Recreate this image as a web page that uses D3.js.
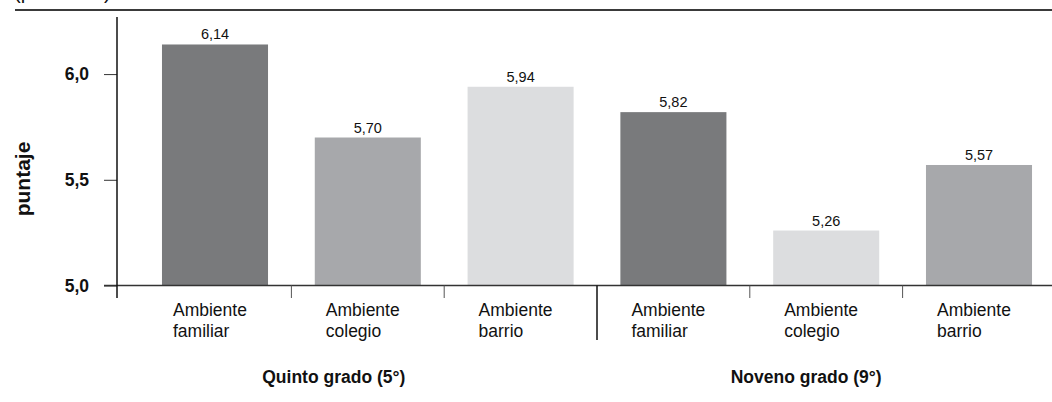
<!DOCTYPE html>
<html>
<head>
<meta charset="utf-8">
<script src="https://cdn.jsdelivr.net/npm/d3@7"></script>
<style>
  html, body { margin: 0; padding: 0; background: #fff; }
  svg { display: block; }
  text { font-family: "Liberation Sans", Arial, sans-serif; fill: #111; }
</style>
</head>
<body>
<div id="chart"></div>
<script>
// data
const grades = ["Quinto grado (5°)", "Noveno grado (9°)"];
const environments = ["Ambiente familiar", "Ambiente colegio", "Ambiente barrio"];
const quintoValues = [6.14, 5.70, 5.94];
const novenoValues = [5.82, 5.26, 5.57];
const barShades = ["dark", "mid", "light", "dark", "light", "mid"];
const yTicks = [5.0, 5.5, 6.0];
const yLabel = "puntaje";
const topNote = "(promedio)";

document.addEventListener('DOMContentLoaded', function() {
    const W = 1052, H = 402;
    const shadeColor = {dark: "#797a7c", mid: "#a7a8ab", light: "#dcdddf"};

    const rows = [];
    [quintoValues, novenoValues].forEach((vals, g) => {
        vals.forEach((v, i) => rows.push({grade: grades[g], env: environments[i], key: g + "-" + i, value: v}));
    });
    rows.forEach((d, i) => d.shade = barShades[i]);

    const svg = d3.select("#chart").append("svg")
        .attr("width", W)
        .attr("height", H);

    const x = d3.scaleBand()
        .domain(rows.map(d => d.key))
        .range([138.6, 1055.4])
        .paddingInner(0.306)
        .paddingOuter(0.153);

    const y = d3.scaleLinear()
        .domain([5.0, 6.27])
        .range([285.5, 17]);

    // clipped note and top rule
    svg.append("text")
        .attr("x", 14).attr("y", -1)
        .attr("font-size", 20)
        .text(topNote);
    svg.append("line")
        .attr("x1", 15).attr("x2", W)
        .attr("y1", 10).attr("y2", 10)
        .attr("stroke", "#3a3a3a").attr("stroke-width", 2.2);

    // bars
    svg.append("g")
        .selectAll("rect")
        .data(rows)
        .join("rect")
        .attr("x", d => x(d.key))
        .attr("y", d => y(d.value))
        .attr("width", x.bandwidth())
        .attr("height", d => y(5.0) - y(d.value))
        .attr("fill", d => shadeColor[d.shade]);

    // value labels
    svg.append("g")
        .selectAll("text")
        .data(rows)
        .join("text")
        .attr("x", d => x(d.key) + x.bandwidth() / 2)
        .attr("y", d => y(d.value) - 5)
        .attr("text-anchor", "middle")
        .attr("font-size", 14.5)
        .text(d => d3.format(".2f")(d.value).replace(".", ","));

    // baseline
    svg.append("line")
        .attr("x1", 104).attr("x2", W)
        .attr("y1", y(5.0)).attr("y2", y(5.0))
        .attr("stroke", "#333").attr("stroke-width", 1.5);

    // y axis
    const yAxis = svg.append("g")
        .attr("transform", "translate(117,0)")
        .call(d3.axisLeft(y).tickValues(yTicks).tickSize(13).tickSizeOuter(0)
            .tickFormat(d => d3.format(".1f")(d).replace(".", ",")));
    yAxis.select(".domain").remove();
    yAxis.selectAll(".tick line").attr("stroke", "#333");
    yAxis.selectAll(".tick text")
        .attr("x", -28)
        .attr("font-size", 17.5)
        .attr("font-weight", "bold")
        .attr("font-family", null)
        .attr("fill", "#111");
    svg.append("line")
        .attr("x1", 117).attr("x2", 117)
        .attr("y1", 17).attr("y2", 298)
        .attr("stroke", "#111").attr("stroke-width", 1.5);

    svg.append("text")
        .attr("transform", "translate(30,179) rotate(-90)")
        .attr("text-anchor", "middle")
        .attr("font-size", 21)
        .attr("font-weight", "bold")
        .text(yLabel);

    // separators between categories
    const keys = x.domain();
    const gaps = keys.slice(1).map((k, i) => ({
        pos: (x(keys[i]) + x.bandwidth() + x(k)) / 2,
        group: (i + 1) % environments.length === 0
    }));
    svg.append("g")
        .selectAll("line")
        .data(gaps)
        .join("line")
        .attr("x1", d => d.pos).attr("x2", d => d.pos)
        .attr("y1", y(5.0))
        .attr("y2", d => d.group ? 340 : 298)
        .attr("stroke", d => d.group ? "#111" : "#555")
        .attr("stroke-width", d => d.group ? 1.5 : 1);

    // category labels (two lines)
    const catText = svg.append("g")
        .selectAll("text")
        .data(rows)
        .join("text")
        .attr("y", 316)
        .attr("font-size", 17.5);
    catText.each(function(d) {
        const parts = d.env.split(" ");
        d3.select(this).selectAll("tspan")
            .data(parts)
            .join("tspan")
            .attr("x", x(d.key) + 11)
            .attr("dy", (p, i) => i === 0 ? 0 : 21)
            .text(p => p);
    });

    // group labels
    const groupShift = [-34, -20];
    svg.append("g")
        .selectAll("text")
        .data(grades)
        .join("text")
        .attr("x", (g, i) => x(i + "-1") + x.bandwidth() / 2 + groupShift[i])
        .attr("y", 383)
        .attr("text-anchor", "middle")
        .attr("font-size", 17.5)
        .attr("font-weight", "bold")
        .text(g => g);
});
</script>
</body>
</html>
